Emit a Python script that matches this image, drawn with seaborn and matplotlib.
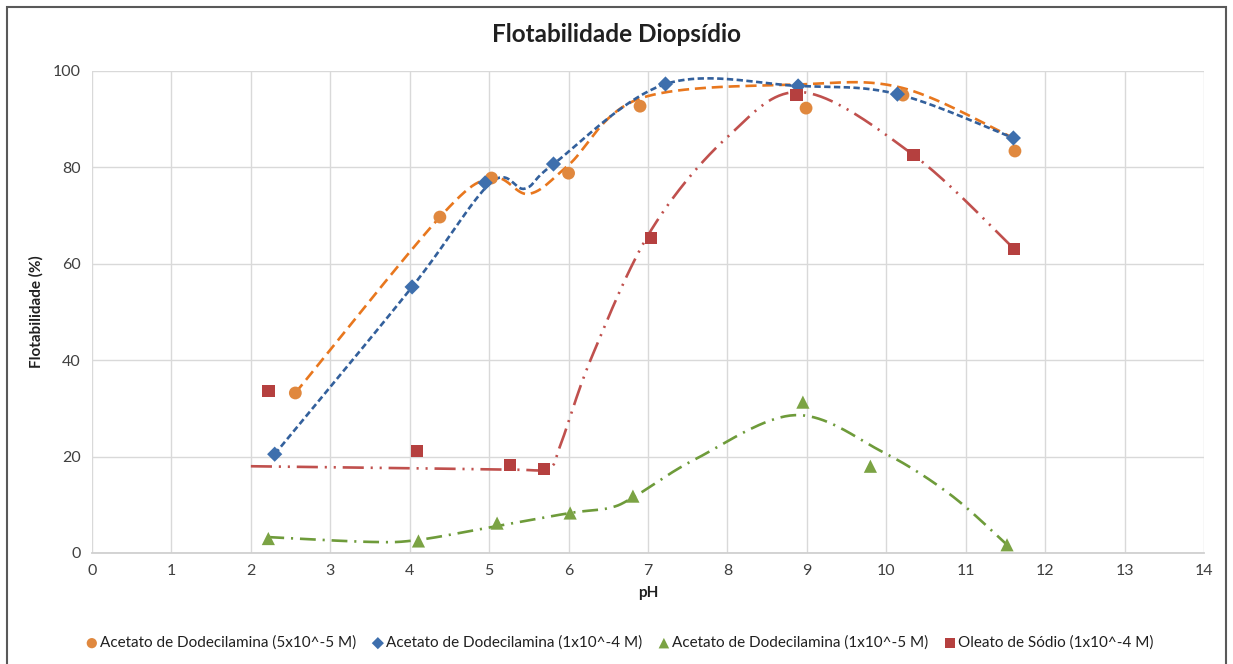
import numpy as np
import pandas as pd
import matplotlib
matplotlib.use("Agg")
import matplotlib.pyplot as plt
from matplotlib.patches import Rectangle
import seaborn as sns

# Measured flotability (%) versus pH for each collector
ph_dda_5e5 = [2.56, 4.38, 5.03, 6.00, 6.90, 8.99, 10.21, 11.62]
flot_dda_5e5 = [33.2, 69.7, 77.8, 78.8, 92.7, 92.3, 95.0, 83.4]

ph_dda_1e4 = [2.30, 4.03, 4.95, 5.81, 7.22, 8.89, 10.14, 11.60]
flot_dda_1e4 = [20.5, 55.2, 76.8, 80.7, 97.3, 96.9, 95.2, 86.1]

ph_dda_1e5 = [2.22, 4.11, 5.10, 6.02, 6.81, 8.95, 9.80, 11.52]
flot_dda_1e5 = [3.0, 2.5, 6.2, 8.3, 11.8, 31.3, 18.0, 1.7]

ph_oleato = [2.22, 4.09, 5.26, 5.69, 7.04, 8.87, 10.34, 11.61]
flot_oleato = [33.6, 21.2, 18.3, 17.4, 65.4, 95.0, 82.6, 63.1]

# Hand-fitted trend curves (smoothed lines through these nodes)
fit_x_dda_5e5 = [2.56, 4.38, 5.04, 5.50, 6.00, 6.90, 8.90, 10.20, 11.60]
fit_y_dda_5e5 = [33.2, 69.7, 77.8, 74.5, 80.5, 94.3, 97.2, 96.5, 86.1]

fit_x_dda_1e4 = [2.30, 4.03, 5.02, 5.45, 5.81, 7.22, 8.89, 10.14, 11.60]
fit_y_dda_1e4 = [20.5, 55.2, 76.8, 75.6, 80.7, 97.3, 96.9, 95.2, 86.1]

fit_x_dda_1e5 = [2.22, 3.50, 4.10, 5.00, 6.02, 6.50, 6.81, 7.60, 8.85, 9.95, 10.80, 11.52]
fit_y_dda_1e5 = [3.3, 2.3, 2.7, 5.3, 8.3, 9.3, 11.5, 19.5, 28.6, 21.0, 12.2, 1.7]

fit_x_oleato = [2.00, 4.00, 5.30, 5.75, 5.90, 6.30, 7.04, 8.00, 8.95, 10.34, 11.61]
fit_y_oleato = [18.0, 17.6, 17.3, 17.6, 22.5, 41.0, 67.0, 86.3, 95.6, 82.6, 63.1]

labels = [
    "Acetato de Dodecilamina (5x10^-5 M)",
    "Acetato de Dodecilamina (1x10^-4 M)",
    "Acetato de Dodecilamina (1x10^-5 M)",
    "Oleato de Sódio (1x10^-4 M)",
]
x_ticks = list(range(0, 15))
y_ticks = [0, 20, 40, 60, 80, 100]


def smooth(xs, ys, n=40):
    """Cardinal (Catmull-Rom) Bezier smoothing, like a spreadsheet smoothed line."""
    p = np.column_stack([xs, ys]).astype(float)
    ext = np.vstack([p[0], p, p[-1]])
    out = []
    t = np.linspace(0, 1, n)[:, None]
    for i in range(1, len(ext) - 2):
        p0, p1, p2, p3 = ext[i - 1], ext[i], ext[i + 1], ext[i + 2]
        c1 = p1 + (p2 - p0) / 6.0
        c2 = p2 - (p3 - p1) / 6.0
        seg = ((1 - t) ** 3) * p1 + 3 * ((1 - t) ** 2) * t * c1 + 3 * (1 - t) * t ** 2 * c2 + t ** 3 * p2
        out.append(seg if i == 1 else seg[1:])
    arr = np.vstack(out)
    return arr[:, 0], arr[:, 1]


sns.set_theme(style="white")
plt.rcParams["font.family"] = ["Lato", "DejaVu Sans"]

fig = plt.figure(figsize=(12.33, 6.64), dpi=100)
ax = fig.add_axes([92 / 1233, 1 - 553 / 664, (1204 - 92) / 1233, (553 - 71) / 664])

series = [
    (ph_dda_5e5, flot_dda_5e5, fit_x_dda_5e5, fit_y_dda_5e5, "o", 85, "#E0883E", "#E8771E", (4.2, 2.2)),
    (ph_dda_1e4, flot_dda_1e4, fit_x_dda_1e4, fit_y_dda_1e4, "D", 60, "#3E6FAD", "#33609C", (2.4, 1.3)),
    (ph_dda_1e5, flot_dda_1e5, fit_x_dda_1e5, fit_y_dda_1e5, "^", 90, "#7BA344", "#6E9B3A", (6.0, 2.6, 0.8, 2.6)),
    (ph_oleato, flot_oleato, fit_x_oleato, fit_y_oleato, "s", 80, "#B5403F", "#C0504D", (8.0, 2.6, 0.8, 2.6, 0.8, 2.6)),
]

# trend curves first, markers on top
for xs, ys, fx, fy, mk, sz, mcol, lcol, dash in series:
    cx, cy = smooth(fx, fy)
    line_df = pd.DataFrame({"pH": cx, "flot": cy})
    sns.lineplot(data=line_df, x="pH", y="flot", sort=False, estimator=None, ax=ax,
                 color=lcol, linewidth=1.9, dashes=False, zorder=3)
    ax.lines[-1].set_dashes(dash)

for (xs, ys, fx, fy, mk, sz, mcol, lcol, dash), lab in zip(series, labels):
    pts = pd.DataFrame({"pH": xs, "flot": ys})
    sns.scatterplot(data=pts, x="pH", y="flot", ax=ax, marker=mk, s=sz, color=mcol,
                    edgecolor="none", linewidth=0, label=lab, zorder=4)

ax.set_xlim(0, 14)
ax.set_ylim(0, 100)
ax.set_xticks(x_ticks)
ax.set_yticks(y_ticks)
ax.tick_params(axis="both", length=0, labelsize=11.5, colors="#404040", pad=8)
ax.grid(True, color="#D9D9D9", linewidth=1.0)
ax.set_axisbelow(True)
for side in ["top", "right", "left"]:
    ax.spines[side].set_visible(False)
ax.spines["bottom"].set_color("#D0D0D0")
ax.spines["bottom"].set_linewidth(1.3)

ax.set_xlabel("pH", fontsize=11, fontweight="bold", color="#202020", labelpad=6)
ax.set_ylabel("Flotabilidade (%)", fontsize=11, fontweight="bold", color="#202020", labelpad=7)
fig.text(0.5, 1 - 35 / 664, "Flotabilidade Diopsídio", ha="center", va="center",
         fontsize=17.5, fontweight="bold", color="#202020")

handles, labs = ax.get_legend_handles_labels()
if ax.get_legend():
    ax.get_legend().remove()
leg = fig.legend(handles, labs, loc="center", bbox_to_anchor=(619 / 1233, 1 - 643 / 664), ncol=4,
                 frameon=False, fontsize=11, handletextpad=0.05, columnspacing=0.9,
                 handlelength=1.0, markerscale=0.8)
for t in leg.get_texts():
    t.set_color("#202020")

fig.patches.append(Rectangle((7 / 1233, -0.05), (1226 - 7) / 1233, 1.05 - 7 / 664,
                             transform=fig.transFigure, fill=False,
                             edgecolor="#595959", linewidth=1.5))

fig.savefig("out.png", dpi=100)
